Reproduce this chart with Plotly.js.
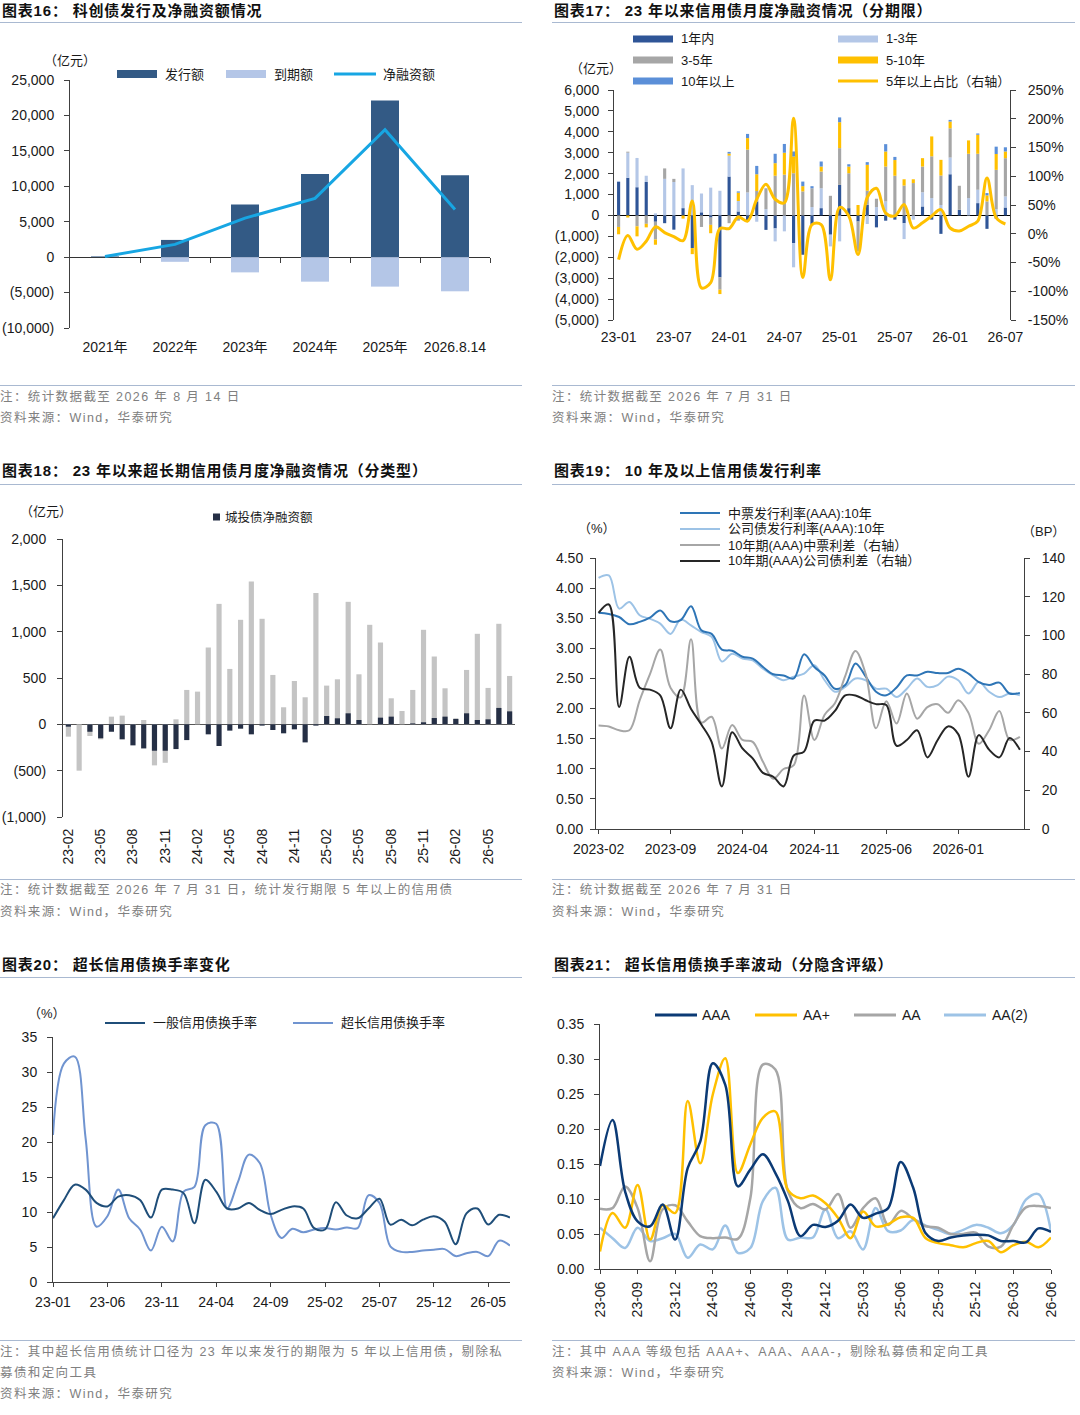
<!DOCTYPE html>
<html><head><meta charset="utf-8">
<script src="https://cdn.plot.ly/plotly-3.0.1.min.js"></script>
<style>
body{margin:0;background:#fff;}
#page{position:relative;width:1080px;height:1415px;background:#fff;overflow:hidden;font-family:"Liberation Sans",Arial,"Noto Sans CJK SC",sans-serif;}
.ttl{position:absolute;font-size:15px;font-weight:bold;color:#111;line-height:18px;white-space:nowrap;letter-spacing:0.8px;}
.hr{position:absolute;height:1px;background:#a9b9d1;}
.note{position:absolute;font-size:12.5px;color:#808080;line-height:16px;white-space:nowrap;letter-spacing:1.4px;}
.ch{position:absolute;}
</style></head>
<body><div id="page">
<div class="ttl" style="left:2px;top:2px">图表16： 科创债发行及净融资额情况</div>
<div class="ttl" style="left:554px;top:2px">图表17： 23 年以来信用债月度净融资情况（分期限）</div>
<div class="hr" style="left:0;top:22px;width:522px"></div>
<div class="hr" style="left:552px;top:22px;width:523px"></div>
<div class="hr" style="left:0;top:385px;width:522px"></div>
<div class="hr" style="left:552px;top:385px;width:523px"></div>
<div class="note" style="left:0;top:389px">注：统计数据截至 2026 年 8 月 14 日</div>
<div class="note" style="left:0;top:410px">资料来源：Wind，华泰研究</div>
<div class="note" style="left:552px;top:389px">注：统计数据截至 2026 年 7 月 31 日</div>
<div class="note" style="left:552px;top:410px">资料来源：Wind，华泰研究</div>

<div class="ttl" style="left:2px;top:462px">图表18： 23 年以来超长期信用债月度净融资情况（分类型）</div>
<div class="ttl" style="left:554px;top:462px">图表19： 10 年及以上信用债发行利率</div>
<div class="hr" style="left:0;top:484px;width:522px"></div>
<div class="hr" style="left:552px;top:484px;width:523px"></div>
<div class="hr" style="left:0;top:879px;width:522px"></div>
<div class="hr" style="left:552px;top:879px;width:523px"></div>
<div class="note" style="left:0;top:882px">注：统计数据截至 2026 年 7 月 31 日，统计发行期限 5 年以上的信用债</div>
<div class="note" style="left:0;top:904px">资料来源：Wind，华泰研究</div>
<div class="note" style="left:552px;top:882px">注：统计数据截至 2026 年 7 月 31 日</div>
<div class="note" style="left:552px;top:904px">资料来源：Wind，华泰研究</div>

<div class="ttl" style="left:2px;top:956px">图表20： 超长信用债换手率变化</div>
<div class="ttl" style="left:554px;top:956px">图表21： 超长信用债换手率波动（分隐含评级）</div>
<div class="hr" style="left:0;top:977px;width:522px"></div>
<div class="hr" style="left:552px;top:977px;width:523px"></div>
<div class="hr" style="left:0;top:1340px;width:522px"></div>
<div class="hr" style="left:552px;top:1340px;width:523px"></div>
<div class="note" style="left:0;top:1344px">注：其中超长信用债统计口径为 23 年以来发行的期限为 5 年以上信用债，剔除私</div>
<div class="note" style="left:0;top:1365px">募债和定向工具</div>
<div class="note" style="left:0;top:1386px">资料来源：Wind，华泰研究</div>
<div class="note" style="left:552px;top:1344px">注：其中 AAA 等级包括 AAA+、AAA、AAA-，剔除私募债和定向工具</div>
<div class="note" style="left:552px;top:1365px">资料来源：Wind，华泰研究</div>

<div id="c16" class="ch"></div>
<div id="c17" class="ch"></div>
<div id="c18" class="ch"></div>
<div id="c19" class="ch"></div>
<div id="c20" class="ch"></div>
<div id="c21" class="ch"></div>
</div>
<script>
// ---------------- DATA ----------------
// Chart 16
const years16 = ['2021年','2022年','2023年','2024年','2025年','2026.8.14'];
const issue16 = [100, 2430, 7440, 11750, 22100, 11560];
const mature16 = [0, -660, -2150, -3460, -4160, -4820];
const net16 = [100, 1800, 5500, 8290, 17980, 6740];
const ticks16 = [-10000,-5000,0,5000,10000,15000,20000,25000];
const tickText16 = ['(10,000)','(5,000)','0','5,000','10,000','15,000','20,000','25,000'];

// Chart 17
const months17 = ['23-01','23-02','23-03','23-04','23-05','23-06','23-07','23-08','23-09','23-10','23-11','23-12',
 '24-01','24-02','24-03','24-04','24-05','24-06','24-07','24-08','24-09','24-10','24-11','24-12',
 '25-01','25-02','25-03','25-04','25-05','25-06','25-07','25-08','25-09','25-10','25-11','25-12',
 '26-01','26-02','26-03','26-04','26-05','26-06','26-07'];
const y1_17  = [1600,1800,1350,1600,-300,-370,-680,350,-1560,150,-100,-2960, 1860,190,-300,670,-690,-620,0,-1320,-1880,-450,350,-920, 1460,350,-290,510,-570,-250,-200,-370,0,430,-200,-880, 1970,270,0,590,-640,-150,380];
const y13_17 = [50,1200,1400,300,100,1750,1600,1900,1450,900,1330,1180, 1000,500,1100,-300,300,-620,-760,-1160,0,400,950,-560, -1240,0,0,-410,400,670,0,-760,-200,680,830,500, 800,0,830,640,0,300,530];
const y35_17 = [-550,50,-520,-400,-850,500,150,0,0,-550,-350,-590, -370,-250,2050,500,1000,1900,1950,2020,1150,900,800,940, 1760,1670,-1430,670,400,1670,1900,1430,1550,1230,2000,1410, 1400,1150,2120,1720,670,1880,1830];
const y510_17= [-350,-100,-480,-170,-250,0,0,-150,-290,0,-400,-210, 100,400,550,800,0,600,1050,800,250,0,240,0, 1240,320,500,1240,0,720,750,300,180,400,950,750, 320,0,640,910,290,760,320];
const y10_17 = [0,0,0,0,0,0,0,0,0,0,0,0, 80,60,200,400,0,450,420,240,220,100,240,0, 230,110,0,130,0,350,150,0,0,0,0,0, 80,0,0,60,110,350,200];
const ratio17= [-45,-3,-27,-13,12,2,-5,-12,57,-94,-85,9, 9,29,22,60,86,60,54,201,-76,16,16,-80, 46,31,-36,63,79,36,31,51,10,19,31,42, 10,5,13,22,97,28,17];
const tick17 = ['23-01','23-07','24-01','24-07','25-01','25-07','26-01','26-07'];
const lt17 = [-5000,-4000,-3000,-2000,-1000,0,1000,2000,3000,4000,5000,6000];
const ltText17 = ['(5,000)','(4,000)','(3,000)','(2,000)','(1,000)','0','1,000','2,000','3,000','4,000','5,000','6,000'];
const rt17 = [-150,-100,-50,0,50,100,150,200,250];
const rtText17 = ['-150%','-100%','-50%','0%','50%','100%','150%','200%','250%'];

// Chart 18
const months18 = ['23-02','23-03','23-04','23-05','23-06','23-07','23-08','23-09','23-10','23-11','23-12',
 '24-01','24-02','24-03','24-04','24-05','24-06','24-07','24-08','24-09','24-10','24-11','24-12',
 '25-01','25-02','25-03','25-04','25-05','25-06','25-07','25-08','25-09','25-10','25-11','25-12',
 '26-01','26-02','26-03','26-04','26-05','26-06','26-07'];
const total18 = [-133,-500,-126,-162,83,94,-40,47,-443,-415,54, 371,353,829,1300,598,1128,1542,1139,533,184,468,292, 1416,418,486,1322,540,1074,883,281,144,371,1020,732, 389,65,587,977,393,1085,522];
const chengtou18 = [-25,0,-80,-150,-80,-162,-227,-260,-285,-285,-267, -170,0,-108,-234,-68,-47,-108,-14,-61,-97,-54,-195, -14,90,65,119,47,0,72,83,0,10,22,68, 83,58,119,47,54,177,140];
const tick18 = ['23-02','23-05','23-08','23-11','24-02','24-05','24-08','24-11','25-02','25-05','25-08','25-11','26-02','26-05'];
const yt18 = [-1000,-500,0,500,1000,1500,2000];
const ytText18 = ['(1,000)','(500)','0','500','1,000','1,500','2,000'];

// Chart 19
const months19 = ['2023-02','2023-03','2023-04','2023-05','2023-06','2023-07','2023-08','2023-09','2023-10','2023-11','2023-12',
 '2024-01','2024-02','2024-03','2024-04','2024-05','2024-06','2024-07','2024-08','2024-09','2024-10','2024-11','2024-12',
 '2025-01','2025-02','2025-03','2025-04','2025-05','2025-06','2025-07','2025-08','2025-09','2025-10','2025-11','2025-12',
 '2026-01','2026-02','2026-03','2026-04','2026-05','2026-06','2026-07'];
const mtn19 = [3.59,3.57,3.52,3.40,3.44,3.51,3.63,3.45,3.47,3.70,3.30,3.24, 2.98,2.96,2.86,2.83,2.69,2.57,2.55,2.50,2.90,2.69,2.55,2.33, 2.39,2.75,2.53,2.28,2.22,2.35,2.55,2.55,2.61,2.59,2.59,2.66, 2.58,2.44,2.39,2.43,2.25,2.26];
const corp19 = [4.17,4.21,3.66,3.77,3.55,3.49,3.41,3.24,3.48,3.38,3.27,3.19, 2.78,2.91,2.83,2.80,2.66,2.55,2.47,2.53,2.58,2.72,2.47,2.28, 2.36,2.50,2.47,2.33,2.33,2.19,2.33,2.50,2.36,2.39,2.53,2.47, 2.25,2.44,2.28,2.19,2.25,2.22];
const mtnSpr19 = [53.5,53,51,51,66.5,80,92.7,73,68,98,55,58, 41.6,53.7,46,45,34.7,26,31,33,69,46,59,65, 79,92,80,52,66,54.5,70,57,63,64.5,60,66.5, 60,44,51,61,46,47.6];
const corpSpr19 = [111.6,116,63,89,73,72,69,52,72,62,54,45, 22,50,41.6,36.5,29,27,22,38,40,56,56,61, 69,69,66.5,64.5,64,43,46,51,37,46,53,49, 27,48.5,41,37,47,41];
const tick19 = ['2023-02','2023-09','2024-04','2024-11','2025-06','2026-01'];

// Chart 20
const months20 = months17;
const general20 = [9.1,11.7,13.9,13.2,11.3,10.8,12.2,12.4,11.7,9.2,13.2,13.2, 12.7,8.4,14.6,12.9,10.5,10.5,11.3,10.3,9.7,10.3,10.8,10.5, 7.7,7.5,11.4,9.5,9.1,10.5,11.9,8.2,8.9,8.1,8.9,9.4, 8.6,5.4,9.8,10.5,8.2,9.6,9.2];
const ultra20 = [21.0,31.2,32.2,20.5,7.9,9.4,13.2,9.1,7.5,4.5,7.9,5.8, 12.9,13.6,22.4,22.6,10.5,14.3,18.2,17.0,9.6,6.3,7.6,7.1, 7.5,7.7,7.5,7.8,7.7,12.4,11.3,5.1,4.3,4.3,4.5,4.6, 4.7,3.7,4.1,4.3,3.7,5.9,5.2];
const tick20 = ['23-01','23-06','23-11','24-04','24-09','25-02','25-07','25-12','26-05'];

// Chart 21
const months21 = ['23-06','23-07','23-08','23-09','23-10','23-11','23-12',
 '24-01','24-02','24-03','24-04','24-05','24-06','24-07','24-08','24-09','24-10','24-11','24-12',
 '25-01','25-02','25-03','25-04','25-05','25-06','25-07','25-08','25-09','25-10','25-11','25-12',
 '26-01','26-02','26-03','26-04','26-05','26-06'];
const aaa21 = [0.147,0.213,0.111,0.068,0.061,0.092,0.042, 0.144,0.182,0.294,0.263,0.118,0.142,0.164,0.137,0.097,0.047,0.063,0.060, 0.069,0.092,0.073,0.079,0.087,0.153,0.116,0.051,0.040,0.045,0.048,0.049, 0.048,0.040,0.040,0.038,0.058,0.053];
const aap21 = [0.025,0.080,0.059,0.120,0.042,0.091,0.080, 0.240,0.151,0.249,0.301,0.137,0.178,0.216,0.225,0.113,0.101,0.105,0.094, 0.073,0.044,0.082,0.061,0.064,0.074,0.073,0.044,0.037,0.034,0.031,0.037, 0.040,0.024,0.034,0.039,0.031,0.045];
const aa21 = [0.086,0.087,0.118,0.087,0.011,0.085,0.091, 0.068,0.047,0.044,0.045,0.043,0.101,0.292,0.285,0.111,0.087,0.093,0.085, 0.107,0.059,0.087,0.101,0.063,0.083,0.072,0.061,0.059,0.050,0.050,0.052, 0.032,0.032,0.063,0.088,0.090,0.087];
const aa2_21 = [0.059,0.044,0.030,0.059,0.040,0.044,0.050, 0.016,0.035,0.028,0.062,0.023,0.030,0.097,0.116,0.042,0.045,0.045,0.085, 0.044,0.054,0.028,0.087,0.054,0.055,0.070,0.062,0.056,0.050,0.056,0.063, 0.059,0.051,0.063,0.099,0.107,0.054];
const tick21 = ['23-06','23-09','23-12','24-03','24-06','24-09','24-12','25-03','25-06','25-09','25-12','26-03','26-06'];

// ---------------- HELPERS ----------------
const FONT = '"Liberation Sans", Arial, "Noto Sans CJK SC", sans-serif';
const CJK = '"Liberation Sans", "Noto Sans CJK SC", sans-serif';
function setup(id, g){
  const el = document.getElementById(id);
  el.style.left = g.left+'px'; el.style.top = g.top+'px';
  el.style.width = g.w+'px'; el.style.height = g.h+'px';
  return {width:g.w, height:g.h, autosize:false,
    margin:{l:g.L-g.left, r:g.left+g.w-g.R, t:g.T-g.top, b:g.top+g.h-g.B, pad:0},
    paper_bgcolor:'rgba(0,0,0,0)', plot_bgcolor:'rgba(0,0,0,0)',
    font:{family:FONT, size:14, color:'#1a1a1a'}, showlegend:false, shapes:[], annotations:[]};
}
const PX = (g,x)=>(x-g.L)/(g.R-g.L);
const PY = (g,y)=>(g.B-y)/(g.B-g.T);
function lrect(L,g,x0,x1,yc,h,color){
  L.shapes.push({type:'rect',xref:'paper',yref:'paper',x0:PX(g,x0),x1:PX(g,x1),y0:PY(g,yc+h/2),y1:PY(g,yc-h/2),fillcolor:color,line:{width:0}});
}
function lline(L,g,x0,x1,yc,color,w){
  L.shapes.push({type:'line',xref:'paper',yref:'paper',x0:PX(g,x0),x1:PX(g,x1),y0:PY(g,yc),y1:PY(g,yc),line:{color:color,width:w}});
}
function ltext(L,g,x,y,text,size,anchor){
  L.annotations.push({xref:'paper',yref:'paper',x:PX(g,x),y:PY(g,y),text:text,showarrow:false,
    xanchor:anchor||'left',yanchor:'middle',font:{family:CJK,size:size||13,color:'#1a1a1a'}});
}
const cfg = {displayModeBar:false, staticPlot:true};
const AX = '#404040';

// ---------------- CHART 16 ----------------
(function(){
  const g = {left:0, top:30, w:525, h:345, L:70, R:490, T:80, B:328};
  const L = setup('c16', g);
  L.barmode = 'relative';
  L.xaxis = {type:'category', categoryarray:years16, range:[-0.5,5.5], showline:false, ticks:'', showgrid:false, zeroline:false,
    ticklabelstandoff:9, tickfont:{size:14}};
  L.xaxis2 = {overlaying:'x', anchor:'free', position:(0-(-10000))/35000, side:'bottom', range:[-0.5,5.5], showline:false,
    showgrid:false, zeroline:false, showticklabels:false, ticks:'outside', ticklen:5, tickcolor:AX, tickvals:[0.5,1.5,2.5,3.5,4.5,5.5]};
  L.yaxis = {range:[-10000,25000], tickvals:ticks16, ticktext:tickText16, showline:true, linecolor:AX, linewidth:1,
    ticks:'outside', ticklen:5, tickcolor:AX, showgrid:false, zeroline:true, zerolinecolor:'#333', zerolinewidth:1,
    ticklabelstandoff:7, tickfont:{size:14}};
  lrect(L,g,117,157,74,8,'#335a85'); ltext(L,g,163,74,'发行额',13);
  lrect(L,g,226,266,74,8,'#b4c6e7'); ltext(L,g,272,74,'到期额',13);
  lline(L,g,334,376,74,'#17a6e3',3); ltext(L,g,381,74,'净融资额',13);
  ltext(L,g,42,60,'（亿元）',13);
  const data = [
    {type:'bar', x:years16, y:issue16, name:'发行额', width:0.4, marker:{color:'#335a85'}},
    {type:'bar', x:years16, y:mature16, name:'到期额', width:0.4, marker:{color:'#b4c6e7'}},
    {type:'scatter', mode:'lines', x:years16, y:net16, name:'净融资额', line:{color:'#17a6e3', width:3}},
    {type:'scatter', x:[], y:[], xaxis:'x2', yaxis:'y', hoverinfo:'skip', showlegend:false}
  ];
  Plotly.newPlot('c16', data, L, cfg);
})();

// ---------------- CHART 17 ----------------
(function(){
  const g = {left:540, top:30, w:540, h:345, L:614, R:1010, T:90, B:320};
  const L = setup('c17', g);
  L.barmode = 'relative';
  L.xaxis = {type:'category', categoryarray:months17, range:[-0.5,42.5], tickvals:tick17, showline:false, ticks:'',
    showgrid:false, zeroline:false, ticklabelstandoff:7, tickfont:{size:14}};
  L.yaxis = {range:[-5000,6000], tickvals:lt17, ticktext:ltText17, showline:true, linecolor:AX, ticks:'outside', ticklen:5,
    tickcolor:AX, showgrid:false, zeroline:true, zerolinecolor:'#000', zerolinewidth:1.3, ticklabelstandoff:6, tickfont:{size:14}};
  L.yaxis2 = {overlaying:'y', side:'right', range:[-150,250], tickvals:rt17, ticktext:rtText17, showline:true, linecolor:AX,
    ticks:'outside', ticklen:5, tickcolor:AX, showgrid:false, zeroline:false, ticklabelstandoff:9, tickfont:{size:14}};
  lrect(L,g,633,673,39,7,'#2f5597'); ltext(L,g,679,39,'1年内',13);
  lrect(L,g,633,673,60,7,'#a6a6a6'); ltext(L,g,679,60,'3-5年',13);
  lrect(L,g,633,673,81,7,'#5b8fd8'); ltext(L,g,679,81,'10年以上',13);
  lrect(L,g,838,878,39,7,'#b4c7e7'); ltext(L,g,884,39,'1-3年',13);
  lrect(L,g,838,878,60,7,'#ffc000'); ltext(L,g,884,60,'5-10年',13);
  lline(L,g,838,878,81,'#ffc000',3); ltext(L,g,884,81,'5年以上占比（右轴）',13);
  ltext(L,g,568,68,'（亿元）',13);
  const W = 0.34;
  const data = [
    {type:'bar', x:months17, y:y1_17, name:'1年内', width:W, marker:{color:'#2f5597'}},
    {type:'bar', x:months17, y:y13_17, name:'1-3年', width:W, marker:{color:'#b4c7e7'}},
    {type:'bar', x:months17, y:y35_17, name:'3-5年', width:W, marker:{color:'#a6a6a6'}},
    {type:'bar', x:months17, y:y510_17, name:'5-10年', width:W, marker:{color:'#ffc000'}},
    {type:'bar', x:months17, y:y10_17, name:'10年以上', width:W, marker:{color:'#5b8fd8'}},
    {type:'scatter', mode:'lines', x:months17, y:ratio17, yaxis:'y2', name:'5年以上占比（右轴）',
      line:{color:'#ffc000', width:3, shape:'spline', smoothing:1}}
  ];
  Plotly.newPlot('c17', data, L, cfg);
})();

// ---------------- CHART 18 ----------------
(function(){
  const g = {left:0, top:495, w:525, h:380, L:63, R:515, T:539, B:817};
  const L = setup('c18', g);
  L.barmode = 'overlay';
  L.xaxis = {type:'category', categoryarray:months18, range:[-0.5,41.5], tickvals:tick18, tickangle:-90, showline:false,
    ticks:'', showgrid:false, zeroline:false, ticklabelstandoff:8, tickfont:{size:14}};
  L.yaxis = {range:[-1000,2000], tickvals:yt18, ticktext:ytText18, showline:true, linecolor:AX, ticks:'outside', ticklen:5,
    tickcolor:AX, showgrid:false, zeroline:true, zerolinecolor:'#555', zerolinewidth:1, ticklabelstandoff:8, tickfont:{size:14}};
  lrect(L,g,213,220,517,7,'#252f45'); ltext(L,g,223,517,'城投债净融资额',12.5);
  ltext(L,g,18,512,'（亿元）',13);
  const data = [
    {type:'bar', x:months18, y:total18, name:'超长期信用债净融资额', width:0.48, marker:{color:'#c4c4c4'}},
    {type:'bar', x:months18, y:chengtou18, name:'城投债净融资额', width:0.48, marker:{color:'#252f45'}}
  ];
  Plotly.newPlot('c18', data, L, cfg);
})();

// ---------------- CHART 19 ----------------
(function(){
  const g = {left:540, top:495, w:540, h:380, L:596, R:1024, T:558, B:829};
  const L = setup('c19', g);
  L.xaxis = {type:'category', categoryarray:months19, range:[-0.25,41.4], tickvals:tick19, showline:true, linecolor:AX,
    ticks:'outside', ticklen:4, tickcolor:AX, showgrid:false, zeroline:false, ticklabelstandoff:3, tickfont:{size:14}};
  L.yaxis = {range:[0,4.5], dtick:0.5, tickformat:'.2f', showline:true, linecolor:AX, ticks:'outside', ticklen:5,
    tickcolor:AX, showgrid:false, zeroline:false, ticklabelstandoff:4, tickfont:{size:14}};
  L.yaxis2 = {overlaying:'y', side:'right', range:[0,140], dtick:20, showline:true, linecolor:AX, ticks:'outside', ticklen:5,
    tickcolor:AX, showgrid:false, zeroline:false, ticklabelstandoff:9, tickfont:{size:14}};
  lline(L,g,680,720,513,'#2e75b6',2.2); ltext(L,g,726,513,'中票发行利率(AAA):10年',13);
  lline(L,g,680,720,529,'#9dc3e6',2.2); ltext(L,g,726,529,'公司债发行利率(AAA):10年',13);
  lline(L,g,680,720,545,'#a6a6a6',2.2); ltext(L,g,726,545,'10年期(AAA)中票利差（右轴）',13);
  lline(L,g,680,720,561,'#262626',2.2); ltext(L,g,726,561,'10年期(AAA)公司债利差（右轴）',13);
  ltext(L,g,576,529,'（%）',13);
  ltext(L,g,1020,531,'（BP）',13);
  const sp = {shape:'spline', smoothing:1, width:2};
  const data = [
    {type:'scatter', mode:'lines', x:months19, y:mtnSpr19, yaxis:'y2', name:'10年期(AAA)中票利差（右轴）', line:Object.assign({color:'#a6a6a6'},sp)},
    {type:'scatter', mode:'lines', x:months19, y:corpSpr19, yaxis:'y2', name:'10年期(AAA)公司债利差（右轴）', line:Object.assign({color:'#262626'},sp)},
    {type:'scatter', mode:'lines', x:months19, y:corp19, name:'公司债发行利率(AAA):10年', line:Object.assign({color:'#9dc3e6'},sp)},
    {type:'scatter', mode:'lines', x:months19, y:mtn19, name:'中票发行利率(AAA):10年', line:Object.assign({color:'#2e75b6'},sp)}
  ];
  Plotly.newPlot('c19', data, L, cfg);
})();

// ---------------- CHART 20 ----------------
(function(){
  const g = {left:0, top:995, w:525, h:340, L:53, R:510, T:1037, B:1282};
  const L = setup('c20', g);
  L.xaxis = {type:'category', categoryarray:months20, range:[0,42], tickvals:tick20, showline:true, linecolor:AX,
    ticks:'outside', ticklen:4, tickcolor:AX, showgrid:false, zeroline:false, ticklabelstandoff:3, tickfont:{size:14}};
  L.yaxis = {range:[0,35], dtick:5, showline:true, linecolor:AX, ticks:'outside', ticklen:5, tickcolor:AX,
    showgrid:false, zeroline:false, ticklabelstandoff:7, tickfont:{size:14}};
  lline(L,g,105,145,1023,'#1f4e79',2.2); ltext(L,g,151,1023,'一般信用债换手率',13);
  lline(L,g,293,333,1023,'#7094d0',2.2); ltext(L,g,339,1023,'超长信用债换手率',13);
  ltext(L,g,26,1014,'（%）',13);
  const sp = {shape:'spline', smoothing:1, width:2};
  const data = [
    {type:'scatter', mode:'lines', x:months20, y:ultra20, name:'超长信用债换手率', line:Object.assign({color:'#7094d0'},sp)},
    {type:'scatter', mode:'lines', x:months20, y:general20, name:'一般信用债换手率', line:Object.assign({color:'#1f4e79'},sp)}
  ];
  Plotly.newPlot('c20', data, L, cfg);
})();

// ---------------- CHART 21 ----------------
(function(){
  const g = {left:540, top:995, w:540, h:340, L:600, R:1051, T:1024, B:1269};
  const L = setup('c21', g);
  L.xaxis = {type:'category', categoryarray:months21, range:[0,36], tickvals:tick21, tickangle:-90, showline:true, linecolor:AX,
    ticks:'outside', ticklen:4, tickcolor:AX, showgrid:false, zeroline:false, ticklabelstandoff:2, tickfont:{size:14}};
  L.yaxis = {range:[0,0.35], dtick:0.05, tickformat:'.2f', showline:true, linecolor:AX, ticks:'outside', ticklen:5,
    tickcolor:AX, showgrid:false, zeroline:false, ticklabelstandoff:7, tickfont:{size:14}};
  lline(L,g,655,697,1015,'#0b3a75',3); ltext(L,g,700,1015,'AAA',14);
  lline(L,g,755,797,1015,'#ffc000',3); ltext(L,g,801,1015,'AA+',14);
  lline(L,g,854,896,1015,'#a6a6a6',3); ltext(L,g,900,1015,'AA',14);
  lline(L,g,944,986,1015,'#9dc3e6',3); ltext(L,g,990,1015,'AA(2)',14);
  const sp = {shape:'spline', smoothing:1, width:2.5};
  const data = [
    {type:'scatter', mode:'lines', x:months21, y:aa2_21, name:'AA(2)', line:Object.assign({color:'#9dc3e6'},sp)},
    {type:'scatter', mode:'lines', x:months21, y:aa21, name:'AA', line:Object.assign({color:'#a6a6a6'},sp)},
    {type:'scatter', mode:'lines', x:months21, y:aap21, name:'AA+', line:Object.assign({color:'#ffc000'},sp)},
    {type:'scatter', mode:'lines', x:months21, y:aaa21, name:'AAA', line:Object.assign({color:'#0b3a75'},sp)}
  ];
  Plotly.newPlot('c21', data, L, cfg);
})();
</script>
</body></html>
